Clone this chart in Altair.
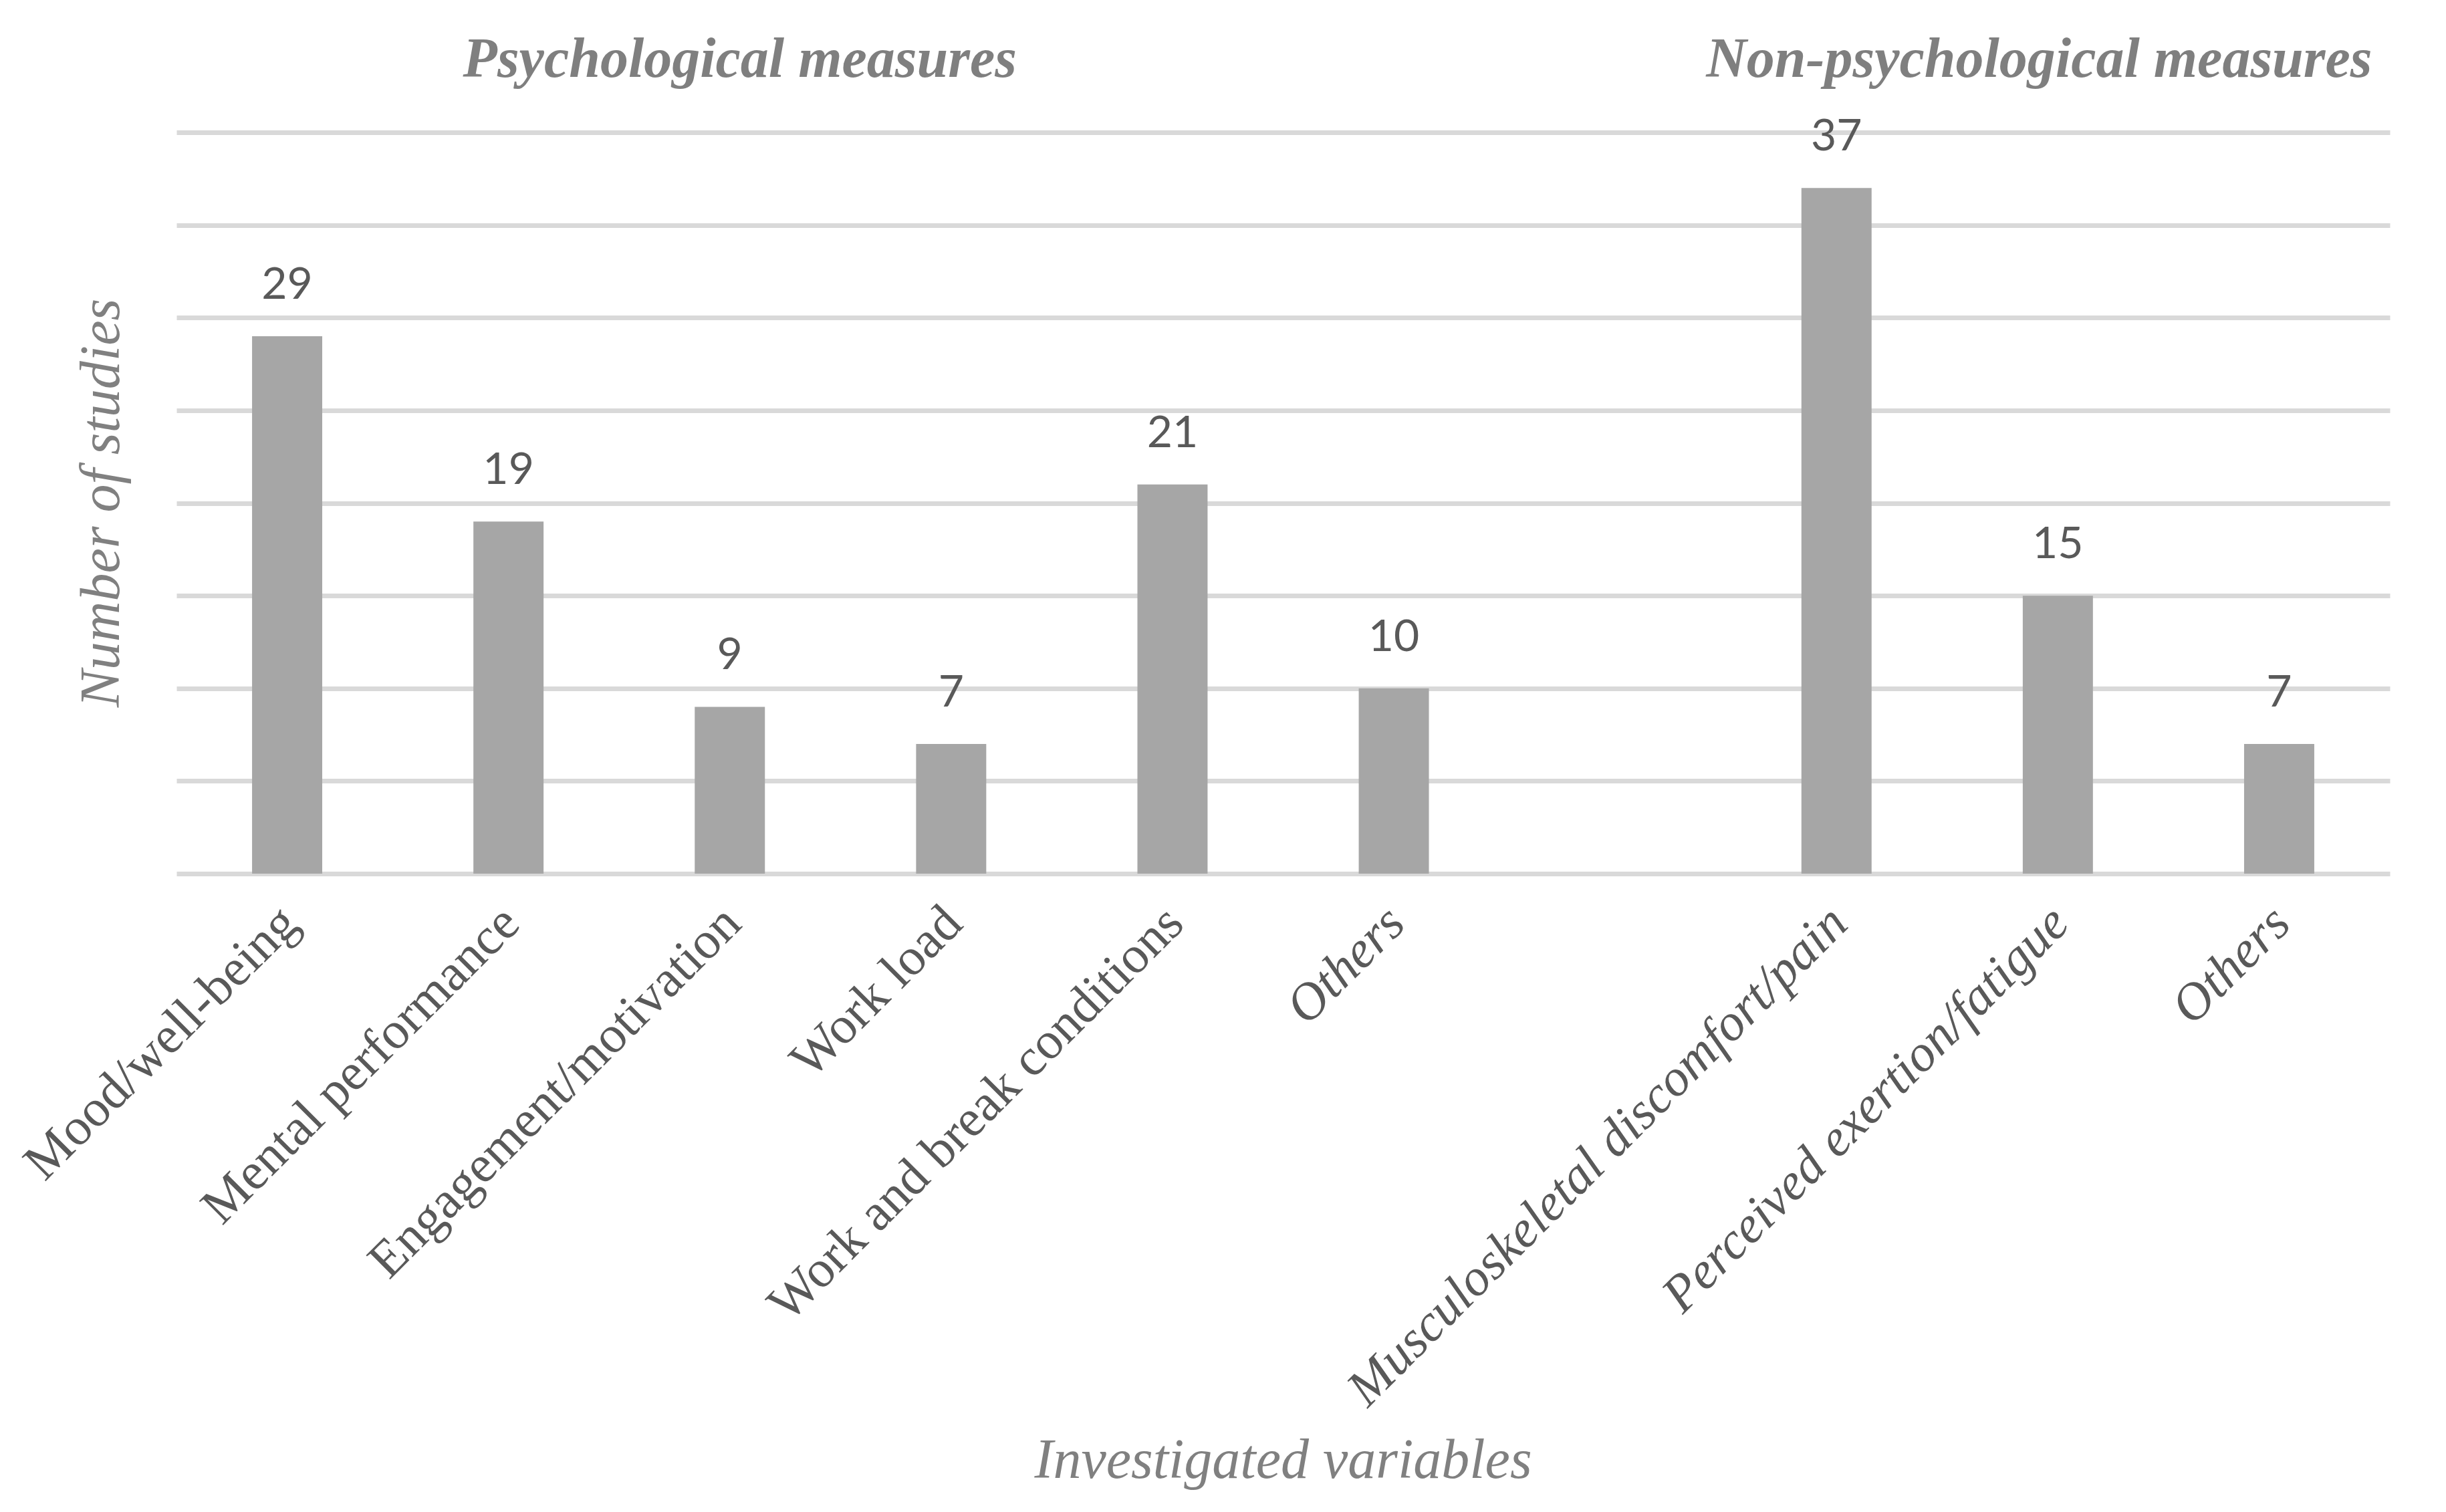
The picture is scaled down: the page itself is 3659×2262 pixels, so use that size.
import altair as alt
import pandas as pd

# ---- data ----
categories = ["Mood/well-being", "Mental performance", "Engagement/motivation",
              "Work load", "Work and break conditions", "Others",
              " ",
              "Musculoskeletal discomfort/pain", "Perceived exertion/fatigue", "Others\u200b"]
values = [29, 19, 9, 7, 21, 10, None, 37, 15, 7]
italic_labels = ["Others", "Others\u200b", "Musculoskeletal discomfort/pain",
                 "Perceived exertion/fatigue"]
y_ticks = [0, 5, 10, 15, 20, 25, 30, 35, 40]

header_texts = ["Psychological measures", "Non-psychological measures"]
header_anchor = ["Engagement/motivation", "Others\u200b"]

SERIF = "'Liberation Serif', 'Times New Roman', Times, serif"
SANS = "Lato, 'Open Sans', sans-serif"

df = pd.DataFrame({"cat": categories, "val": values}).dropna()

x_scale = alt.Scale(domain=categories, paddingInner=0.683, paddingOuter=0.3415)
y_scale = alt.Scale(domain=[0, 40], nice=False)

italic_test = "indexof([" + ",".join("'" + s + "'" for s in italic_labels) + "], datum.value) >= 0"

x_enc = alt.X("cat:N", scale=x_scale, sort=categories,
              axis=alt.Axis(title="Investigated variables", labelAngle=-45,
                            labelAlign="right", labelBaseline="middle",
                            labelPadding=62, labelOffset=4, labelFont=SERIF,
                            labelFontSize=78, labelColor="#595959",
                            labelFontStyle={"condition": {"test": italic_test, "value": "italic"}, "value": "normal"},
                            labelOverlap=False, labelLimit=2000,
                            domain=False, ticks=False, grid=False,
                            titleFont=SERIF, titleFontSize=84,
                            titleFontStyle="italic", titleFontWeight="normal",
                            titleColor="#808080", titleX=1655, titleY=878,
                            titleBaseline="middle", titleAlign="center"))
y_enc = alt.Y("val:Q", scale=y_scale,
              axis=alt.Axis(title="Number of studies", values=y_ticks, labels=False,
                            ticks=False, domain=False, grid=True,
                            gridColor="#d9d9d9", gridWidth=7,
                            titleFont=SERIF, titleFontSize=84,
                            titleFontStyle="italic", titleFontWeight="normal",
                            titleColor="#808080", titleAngle=-90,
                            titleX=-112, titleY=554, titleBaseline="middle",
                            titleAlign="center"))

base = alt.Chart(df)
bars = base.mark_bar(color="#a6a6a6").encode(x=x_enc, y=y_enc)
labels = base.mark_text(font=SANS, fontSize=66, color="#595959",
                        baseline="alphabetic", align="center", dy=-56).encode(
    x=alt.X("cat:N", scale=x_scale, sort=categories),
    y=alt.Y("val:Q", scale=y_scale),
    text=alt.Text("val:Q", format="d"))

hdr1 = alt.Chart(pd.DataFrame({"cat": [header_anchor[0]], "t": [header_texts[0]]})).mark_text(
    font=SERIF, fontSize=84, fontStyle="italic", fontWeight="bold",
    color="#7f7f7f", align="center", baseline="alphabetic", dx=15).encode(
    x=alt.X("cat:N", scale=x_scale, sort=categories), y=alt.value(-83), text="t:N")
hdr2 = alt.Chart(pd.DataFrame({"cat": [header_anchor[1]], "t": [header_texts[1]]})).mark_text(
    font=SERIF, fontSize=84, fontStyle="italic", fontWeight="bold",
    color="#7f7f7f", align="right", baseline="alphabetic", dx=139).encode(
    x=alt.X("cat:N", scale=x_scale, sort=categories), y=alt.value(-83), text="t:N")

chart = alt.layer(bars, labels, hdr1, hdr2).properties(
    width=3311, height=1109,
    autosize=alt.AutoSizeParams(type="none"),
    padding={"left": 256, "top": 190, "right": 76, "bottom": 940},
    background="white",
).configure_view(stroke=None)

chart.save("out.html", embed_options={"renderer": "svg", "actions": False})
